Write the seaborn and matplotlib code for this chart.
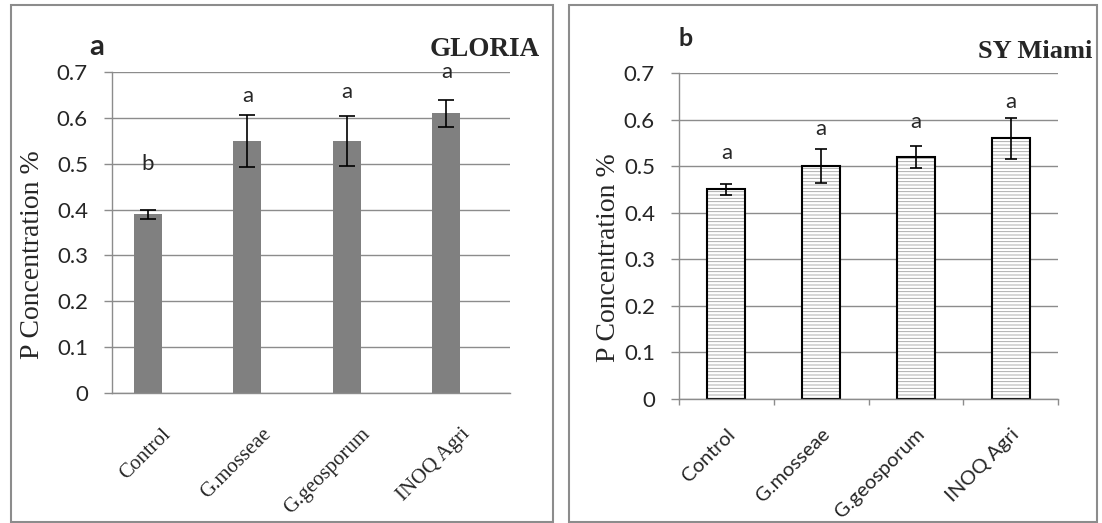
import numpy as np
import pandas as pd
import matplotlib
matplotlib.use("Agg")
import matplotlib.pyplot as plt
import seaborn as sns
from matplotlib.patches import Rectangle
from matplotlib.colors import to_rgba

# -------------------------------
# data
# -------------------------------
treatments = ["Control", "G.mosseae", "G.geosporum", "INOQ Agri"]

gloria_p = [0.39, 0.55, 0.55, 0.61]
gloria_se = [0.010, 0.057, 0.054, 0.030]
gloria_letters = ["b", "a", "a", "a"]
gloria_letter_y = [0.50, 0.647, 0.656, 0.70]

miami_p = [0.45, 0.50, 0.52, 0.56]
miami_se = [0.012, 0.037, 0.023, 0.044]
miami_letters = ["a", "a", "a", "a"]
miami_letter_y = [0.529, 0.579, 0.594, 0.638]

y_ticks = [0, 0.1, 0.2, 0.3, 0.4, 0.5, 0.6, 0.7]
y_tick_labels = ["0", "0.1", "0.2", "0.3", "0.4", "0.5", "0.6", "0.7"]

GRID = "#8c8c8c"
SANS = ["Lato", "DejaVu Sans"]
SERIF = ["Liberation Serif", "DejaVu Serif"]

sns.set_style("white")
plt.rcParams["hatch.linewidth"] = 0.6

W, H = 1102, 523
fig = plt.figure(figsize=(W / 100, H / 100), dpi=100)


def px_axes(left, right, top, bottom):
    return fig.add_axes([left / W, 1 - bottom / H, (right - left) / W, (bottom - top) / H])


ax_a = px_axes(112, 510, 72, 393)
ax_b = px_axes(679, 1058, 73, 399)

# -------------------------------
# panel a : GLORIA (Excel style, bar of 1st of 2 series)
# -------------------------------
df_a = pd.DataFrame({"treatment": treatments, "P": gloria_p, "series": "P"})
sns.barplot(data=df_a, x="treatment", y="P", hue="series", hue_order=["P", "blank"],
            palette={"P": "#808080", "blank": "white"}, width=0.56, dodge=True,
            legend=False, errorbar=None, saturation=1, linewidth=0, ax=ax_a)

xs_a = [p.get_x() + p.get_width() / 2 for p in ax_a.patches][:len(treatments)]
ax_a.errorbar(xs_a, gloria_p, yerr=gloria_se, fmt="none", ecolor="black",
              elinewidth=1.2, capsize=5.8, capthick=1.2, zorder=5)
for x, y, s in zip(xs_a, gloria_letter_y, gloria_letters):
    ax_a.text(x, y, s, ha="center", va="center", fontsize=16, family=SANS)

# -------------------------------
# panel b : SY Miami (hatched bars)
# -------------------------------
sns.barplot(x=treatments, y=miami_p, color="white", width=0.4, edgecolor="black",
            linewidth=1.5, hatch="-----", errorbar=None, saturation=1, ax=ax_b)
for p in ax_b.patches:
    try:
        p.set_hatchcolor("#a0a0a0")
    except AttributeError:
        p._hatch_color = to_rgba("#a0a0a0")

xs_b = [p.get_x() + p.get_width() / 2 for p in ax_b.patches]
ax_b.errorbar(xs_b, miami_p, yerr=miami_se, fmt="none", ecolor="black",
              elinewidth=1.2, capsize=4.3, capthick=1.2, zorder=5)
for x, y, s in zip(xs_b, miami_letter_y, miami_letters):
    ax_b.text(x, y, s, ha="center", va="center", fontsize=16, family=SANS)

# -------------------------------
# shared axis styling
# -------------------------------
for ax, xfont, xsize, xpad, lab_x, lab_y in [(ax_a, SERIF, 15, 23, -0.168, 0.43),
                                             (ax_b, SANS, 14.5, 19, -0.153, 0.433)]:
    ax.set_xlim(-0.5, 3.5)
    ax.set_ylim(0, 0.7)
    ax.set_yticks(y_ticks)
    ax.set_yticklabels(y_tick_labels, family=SANS, fontsize=16)
    ax.set_xticks(range(len(treatments)))
    ax.set_xticklabels(treatments, rotation=45, ha="right", va="top",
                       rotation_mode="anchor", family=xfont, fontsize=xsize)
    ax.set_xlabel("")
    ax.set_ylabel("P Concentration %", family=SERIF, fontsize=20)
    ax.yaxis.set_label_coords(lab_x, lab_y)
    ax.yaxis.grid(True, color=GRID, linewidth=1.0)
    ax.set_axisbelow(True)
    for side in ["top", "right"]:
        ax.spines[side].set_visible(False)
    for side in ["left", "bottom"]:
        ax.spines[side].set_color(GRID)
        ax.spines[side].set_linewidth(1.0)
    ax.tick_params(axis="y", direction="out", length=5.8, width=1.0, color=GRID, pad=11.5, left=True)
    ax.tick_params(axis="x", length=0, pad=xpad)

# category boundary ticks only on panel b
ax_b.set_xticks([-0.5, 0.5, 1.5, 2.5, 3.5], minor=True)
ax_b.tick_params(axis="x", which="minor", direction="out", length=4.3, width=1.0, color=GRID, bottom=True)

# -------------------------------
# panel titles and frames
# -------------------------------
fig.text(97 / W, 1 - 47 / H, "a", ha="center", va="center", fontsize=21, fontweight="bold", family=SANS)
fig.text(485 / W, 1 - 50 / H, "GLORIA", ha="center", va="center", fontsize=19.5, fontweight="bold", family=SERIF)
fig.text(686 / W, 1 - 38 / H, "b", ha="center", va="center", fontsize=18, fontweight="bold", family=SANS)
fig.text(1035 / W, 1 - 52 / H, "SY Miami", ha="center", va="center", fontsize=19, fontweight="bold", family=SERIF)

for left, right in [(11, 553), (569, 1097)]:
    fig.add_artist(Rectangle((left / W, 1 - 522 / H), (right - left) / W, (522 - 5) / H,
                             transform=fig.transFigure, fill=False, edgecolor=GRID, linewidth=1.5))

plt.savefig("out.png", dpi=100)
